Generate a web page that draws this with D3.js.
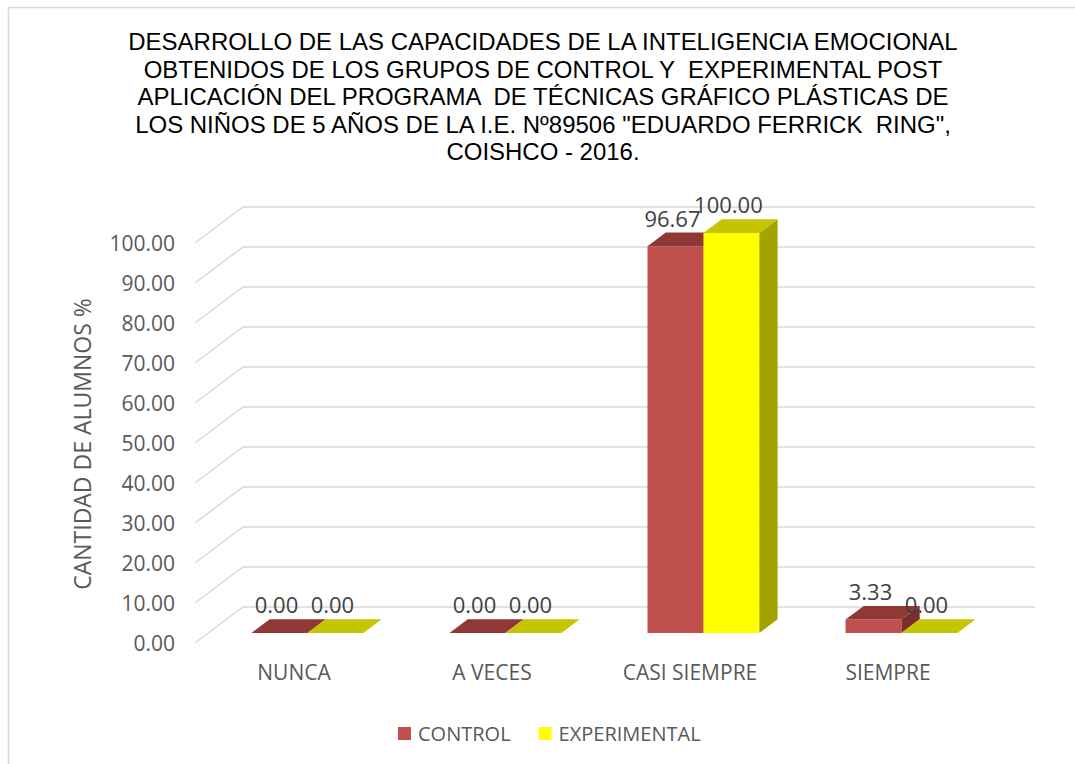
<!DOCTYPE html>
<html>
<head>
<meta charset="utf-8">
<script src="https://cdn.jsdelivr.net/npm/d3@7"></script>
<style>
  body { margin: 0; background: #fff; }
  text { white-space: pre; }
</style>
</head>
<body>
<div id="chart"></div>
<script>
// data
let categories = ["NUNCA", "A VECES", "CASI SIEMPRE", "SIEMPRE"];
let series = ["CONTROL", "EXPERIMENTAL"];
let controlValues = [0.00, 0.00, 96.67, 3.33];
let experimentalValues = [0.00, 0.00, 100.00, 0.00];
let yTicks = [0, 10, 20, 30, 40, 50, 60, 70, 80, 90, 100];
let titleLines = [
  "DESARROLLO DE LAS CAPACIDADES DE LA INTELIGENCIA EMOCIONAL",
  "OBTENIDOS DE LOS GRUPOS DE CONTROL Y  EXPERIMENTAL POST",
  "APLICACIÓN DEL PROGRAMA  DE TÉCNICAS GRÁFICO PLÁSTICAS DE",
  "LOS NIÑOS DE 5 AÑOS DE LA I.E. Nº89506 \"EDUARDO FERRICK  RING\",",
  "COISHCO - 2016."
];
let yTitle = "CANTIDAD DE ALUMNOS %";

let W = 1075, H = 764;
let plotLeft = 195, plotRight = 987;
let depthX = 48, depthY = 36;
let zFront = 0.28, zBack = 0.66;

let colors = {
  CONTROL: {front: "#C0504D", top: "#8F3836", side: "#7A2E2C"},
  EXPERIMENTAL: {front: "#FFFF00", top: "#C4C400", side: "#A3A300"}
};

let svg = d3.select("#chart").append("svg")
  .attr("width", W)
  .attr("height", H)
  .style("background-color", "white");

// chart area border (only top and left are inside the picture)
svg.append("rect")
  .attr("x", 8.5).attr("y", 7.5)
  .attr("width", 1100).attr("height", 800)
  .attr("fill", "none")
  .attr("stroke", "#D9D9D9")
  .attr("stroke-width", 1.5);

// title
let titleSize = 22;
let titleG = svg.append("g").attr("class", "title");
titleLines.forEach((line, i) => {
  titleG.append("text")
    .text(line)
    .attr("x", 543)
    .attr("y", 50 + i * 27.5)
    .attr("text-anchor", "middle")
    .style("font-family", "'Liberation Sans', Arial, sans-serif")
    .style("font-size", titleSize + "px")
    .attr("fill", "black");
});
// fit first line to the width seen in the picture
let firstW = titleG.select("text").node().getComputedTextLength();
titleSize = titleSize * 830 / firstW;
titleG.selectAll("text").style("font-size", titleSize + "px");

let xScale = d3.scaleBand().domain(categories).range([plotLeft, plotRight]);
let seriesScale = d3.scaleBand().domain(series).range([0, xScale.bandwidth()]).paddingOuter(0.77);
let yScale = d3.scaleLinear().domain([0, 100]).range([643, 243]);

function proj(x, v, z){
  return [x + z * depthX, yScale(v) - z * depthY];
}

// gridlines: side wall + back wall
let gridG = svg.append("g").attr("class", "grid");
yTicks.forEach(t => {
  let pts = [proj(plotLeft, t, 0), proj(plotLeft, t, 1), proj(plotRight, t, 1)];
  gridG.append("path")
    .attr("d", d3.line()(pts))
    .attr("fill", "none")
    .attr("stroke", "#D9D9D9")
    .attr("stroke-width", 1.5);
});

// y tick labels
svg.append("g").selectAll("text")
  .data(yTicks)
  .join("text")
  .text(d => d3.format(".2f")(d))
  .attr("x", 175)
  .attr("y", d => yScale(d))
  .attr("dy", "0.36em")
  .attr("text-anchor", "end")
  .style("font-family", "'Open Sans', sans-serif")
  .style("font-size", "21px")
  .attr("fill", "#595959");

// y axis title
svg.append("text")
  .text(yTitle)
  .attr("transform", "translate(91,444) rotate(-90)")
  .attr("text-anchor", "middle")
  .style("font-family", "'Open Sans', sans-serif")
  .style("font-size", "23px")
  .attr("fill", "#595959");

// bars
let barData = [];
categories.forEach((c, i) => {
  barData.push({cat: c, s: "CONTROL", v: controlValues[i]});
  barData.push({cat: c, s: "EXPERIMENTAL", v: experimentalValues[i]});
});

let barsG = svg.append("g").attr("class", "bars");
barData.forEach(d => {
  let xl = xScale(d.cat) + seriesScale(d.s);
  let xr = xl + seriesScale.bandwidth();
  let col = colors[d.s];
  let g = barsG.append("g").attr("class", "bar");
  // front
  if (d.v > 0) {
    g.append("path")
      .attr("d", d3.line()([proj(xl, 0, zFront), proj(xr, 0, zFront), proj(xr, d.v, zFront), proj(xl, d.v, zFront)]) + "Z")
      .attr("fill", col.front);
    // right side
    g.append("path")
      .attr("d", d3.line()([proj(xr, 0, zFront), proj(xr, d.v, zFront), proj(xr, d.v, zBack), proj(xr, 0, zBack)]) + "Z")
      .attr("fill", col.side);
  }
  // top
  g.append("path")
    .attr("d", d3.line()([proj(xl, d.v, zFront), proj(xr, d.v, zFront), proj(xr, d.v, zBack), proj(xl, d.v, zBack)]) + "Z")
    .attr("fill", col.top);
});

// data labels
svg.append("g").selectAll("text")
  .data(barData)
  .join("text")
  .text(d => d3.format(".2f")(d.v))
  .attr("x", d => proj(xScale(d.cat) + seriesScale(d.s) + seriesScale.bandwidth() / 2, d.v, zFront)[0] - 3)
  .attr("y", d => proj(0, d.v, zBack)[1] - 6)
  .attr("text-anchor", "middle")
  .style("font-family", "'Open Sans', sans-serif")
  .style("font-size", "22px")
  .attr("fill", "#404040");

// category labels
svg.append("g").selectAll("text")
  .data(categories)
  .join("text")
  .text(d => d)
  .attr("x", d => xScale(d) + xScale.bandwidth() / 2)
  .attr("y", 680)
  .attr("text-anchor", "middle")
  .style("font-family", "'Open Sans', sans-serif")
  .style("font-size", "21px")
  .attr("fill", "#595959");

// legend
let legendG = svg.append("g").attr("class", "legend");
let lx = 398;
series.forEach(s => {
  legendG.append("rect")
    .attr("x", lx).attr("y", 727)
    .attr("width", 13).attr("height", 13)
    .attr("fill", colors[s].front);
  let t = legendG.append("text")
    .text(s)
    .attr("x", lx + 20)
    .attr("y", 741)
    .style("font-family", "'Open Sans', sans-serif")
    .style("font-size", "20px")
    .attr("fill", "#595959");
  lx = lx + 20 + t.node().getComputedTextLength() + 28;
});
</script>
</body>
</html>
